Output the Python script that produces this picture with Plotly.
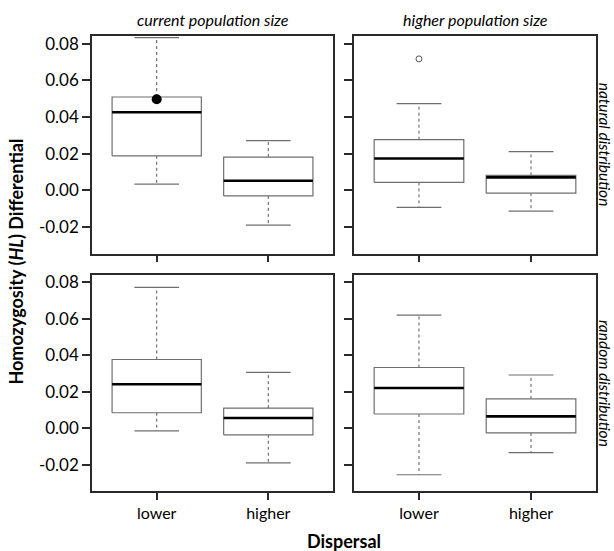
import plotly.graph_objects as go

# ---- data ----
categories = ["lower", "higher"]
panels = ["current/natural", "higher/natural", "current/random", "higher/random"]

# per panel: values for [lower, higher]
upper_whisker = {
    "current/natural": [0.0833, 0.0271],
    "higher/natural": [0.0473, 0.0211],
    "current/random": [0.0772, 0.0306],
    "higher/random": [0.0620, 0.0292],
}
q3_values = {
    "current/natural": [0.0509, 0.0181],
    "higher/natural": [0.0276, 0.0081],
    "current/random": [0.0377, 0.0110],
    "higher/random": [0.0333, 0.0161],
}
median_values = {
    "current/natural": [0.0426, 0.0052],
    "higher/natural": [0.0173, 0.0070],
    "current/random": [0.0241, 0.0056],
    "higher/random": [0.0221, 0.0065],
}
q1_values = {
    "current/natural": [0.0188, -0.0031],
    "higher/natural": [0.0043, -0.0016],
    "current/random": [0.0085, -0.0036],
    "higher/random": [0.0078, -0.0026],
}
lower_whisker = {
    "current/natural": [0.0033, -0.0190],
    "higher/natural": [-0.0094, -0.0114],
    "current/random": [-0.0015, -0.0190],
    "higher/random": [-0.0255, -0.0134],
}
# outliers: (panel, category index, value)
outlier_open = [("higher/natural", 0, 0.0717)]
highlight_points = [("current/natural", 0, 0.0497)]

y_ticks = [-0.02, 0.00, 0.02, 0.04, 0.06, 0.08]
y_tick_labels = ["-0.02", "0.00", "0.02", "0.04", "0.06", "0.08"]
col_labels = ["current population size", "higher population size"]
row_labels = ["natural distribution", "random distribution"]

# ---- layout geometry ----
W, H = 614, 551
xdom = [[92 / W, 333 / W], [354 / W, 596 / W]]
ydom = [[(H - 252) / H, (H - 33) / H], [(H - 491) / H, (H - 273) / H]]
YR = [-0.0346, 0.0843]
XR = [0.42, 2.58]
BOXW = 0.4   # half width
CAPW = 0.2   # half cap width

BOX_COL = "#6e6e6e"
FRAME = "#2a2a2a"
FONT = "Lato"

fig = go.Figure()
axis_ids = ["", "2", "3", "4"]

for pi, p in enumerate(panels):
    ax = axis_ids[pi]
    xa, ya = "x" + ax, "y" + ax
    for ci, cat in enumerate(categories):
        xc = ci + 1
        q1, q3 = q1_values[p][ci], q3_values[p][ci]
        med = median_values[p][ci]
        lo, hi = lower_whisker[p][ci], upper_whisker[p][ci]
        # whiskers (dashed)
        fig.add_trace(go.Scatter(x=[xc, xc, None, xc, xc], y=[q3, hi, None, q1, lo],
                                 mode="lines", line=dict(color="#555555", width=1, dash="3px,3px"),
                                 xaxis=xa, yaxis=ya, hoverinfo="skip", showlegend=False))
        # caps
        fig.add_trace(go.Scatter(x=[xc - CAPW, xc + CAPW, None, xc - CAPW, xc + CAPW],
                                 y=[hi, hi, None, lo, lo],
                                 mode="lines", line=dict(color=BOX_COL, width=1.2),
                                 xaxis=xa, yaxis=ya, hoverinfo="skip", showlegend=False))
        # box
        fig.add_trace(go.Scatter(x=[xc - BOXW, xc + BOXW, xc + BOXW, xc - BOXW, xc - BOXW],
                                 y=[q1, q1, q3, q3, q1], fill="toself", fillcolor="white",
                                 mode="lines", line=dict(color=BOX_COL, width=1.2),
                                 xaxis=xa, yaxis=ya, hoverinfo="skip", showlegend=False))
        # median
        fig.add_trace(go.Scatter(x=[xc - BOXW, xc + BOXW], y=[med, med],
                                 mode="lines", line=dict(color="black", width=2.6),
                                 xaxis=xa, yaxis=ya, hoverinfo="skip", showlegend=False))
    for (op, oc, ov) in outlier_open:
        if op == p:
            fig.add_trace(go.Scatter(x=[oc + 1], y=[ov], mode="markers",
                                     marker=dict(symbol="circle-open", size=6, color="#555555",
                                                 line=dict(width=1)),
                                     xaxis=xa, yaxis=ya, showlegend=False))
    for (hp, hc, hv) in highlight_points:
        if hp == p:
            fig.add_trace(go.Scatter(x=[hc + 1], y=[hv], mode="markers",
                                     marker=dict(symbol="circle", size=10, color="black"),
                                     xaxis=xa, yaxis=ya, showlegend=False))

layout = dict(
    width=W, height=H, margin=dict(l=0, r=0, t=0, b=0),
    paper_bgcolor="white", plot_bgcolor="white",
    font=dict(family=FONT, color="black", size=16),
)
for pi in range(4):
    row, col = divmod(pi, 2)
    ax = axis_ids[pi]
    layout["xaxis" + ax] = dict(
        domain=xdom[col], range=XR, anchor="y" + ax,
        tickmode="array", tickvals=[1, 2],
        ticktext=categories if row == 1 else ["", ""],
        showticklabels=(row == 1),
        ticks="outside", ticklen=7, tickwidth=1.5, tickcolor=FRAME,
        showline=True, mirror=True, linecolor=FRAME, linewidth=1.5,
        showgrid=False, zeroline=False, fixedrange=True,
        tickfont=dict(size=16, family=FONT),
    )
    layout["yaxis" + ax] = dict(
        domain=ydom[row], range=YR, anchor="x" + ax,
        tickmode="array", tickvals=y_ticks, ticktext=y_tick_labels,
        showticklabels=(col == 0),
        ticks="outside", ticklen=8, tickwidth=1.5, tickcolor=FRAME,
        showline=True, mirror=True, linecolor=FRAME, linewidth=1.5,
        showgrid=False, zeroline=False, fixedrange=True,
        tickfont=dict(size=17, family=FONT),
    )
fig.update_layout(**layout)

ann = []
for ci, lab in enumerate(col_labels):
    ann.append(dict(text="<i>" + lab + "</i>", x=(xdom[ci][0] + xdom[ci][1]) / 2, y=(H - 17) / H,
                    xref="paper", yref="paper", showarrow=False, xanchor="center", yanchor="middle",
                    font=dict(size=16, family=FONT)))
for ri, lab in enumerate(row_labels):
    ann.append(dict(text="<i>" + lab + "</i>", x=605 / W, y=(ydom[ri][0] + ydom[ri][1]) / 2,
                    xref="paper", yref="paper", showarrow=False, textangle=90,
                    xanchor="center", yanchor="middle", borderpad=0,
                    font=dict(size=15.5, family=FONT)))
ann.append(dict(text="<b>Homozygosity (<i>HL</i>) Differential</b>", x=16 / W, y=(H - 260) / H,
                xref="paper", yref="paper", showarrow=False, textangle=-90,
                xanchor="center", yanchor="middle",
                font=dict(size=18, family=FONT)))
ann.append(dict(text="<b>Dispersal</b>", x=344 / W, y=(H - 541) / H,
                xref="paper", yref="paper", showarrow=False,
                xanchor="center", yanchor="middle",
                font=dict(size=18, family=FONT)))
fig.update_layout(annotations=ann)

fig.write_html("out.html", config={"displayModeBar": False},
               post_script="document.body.style.margin='0px';document.body.style.overflow='hidden';")
